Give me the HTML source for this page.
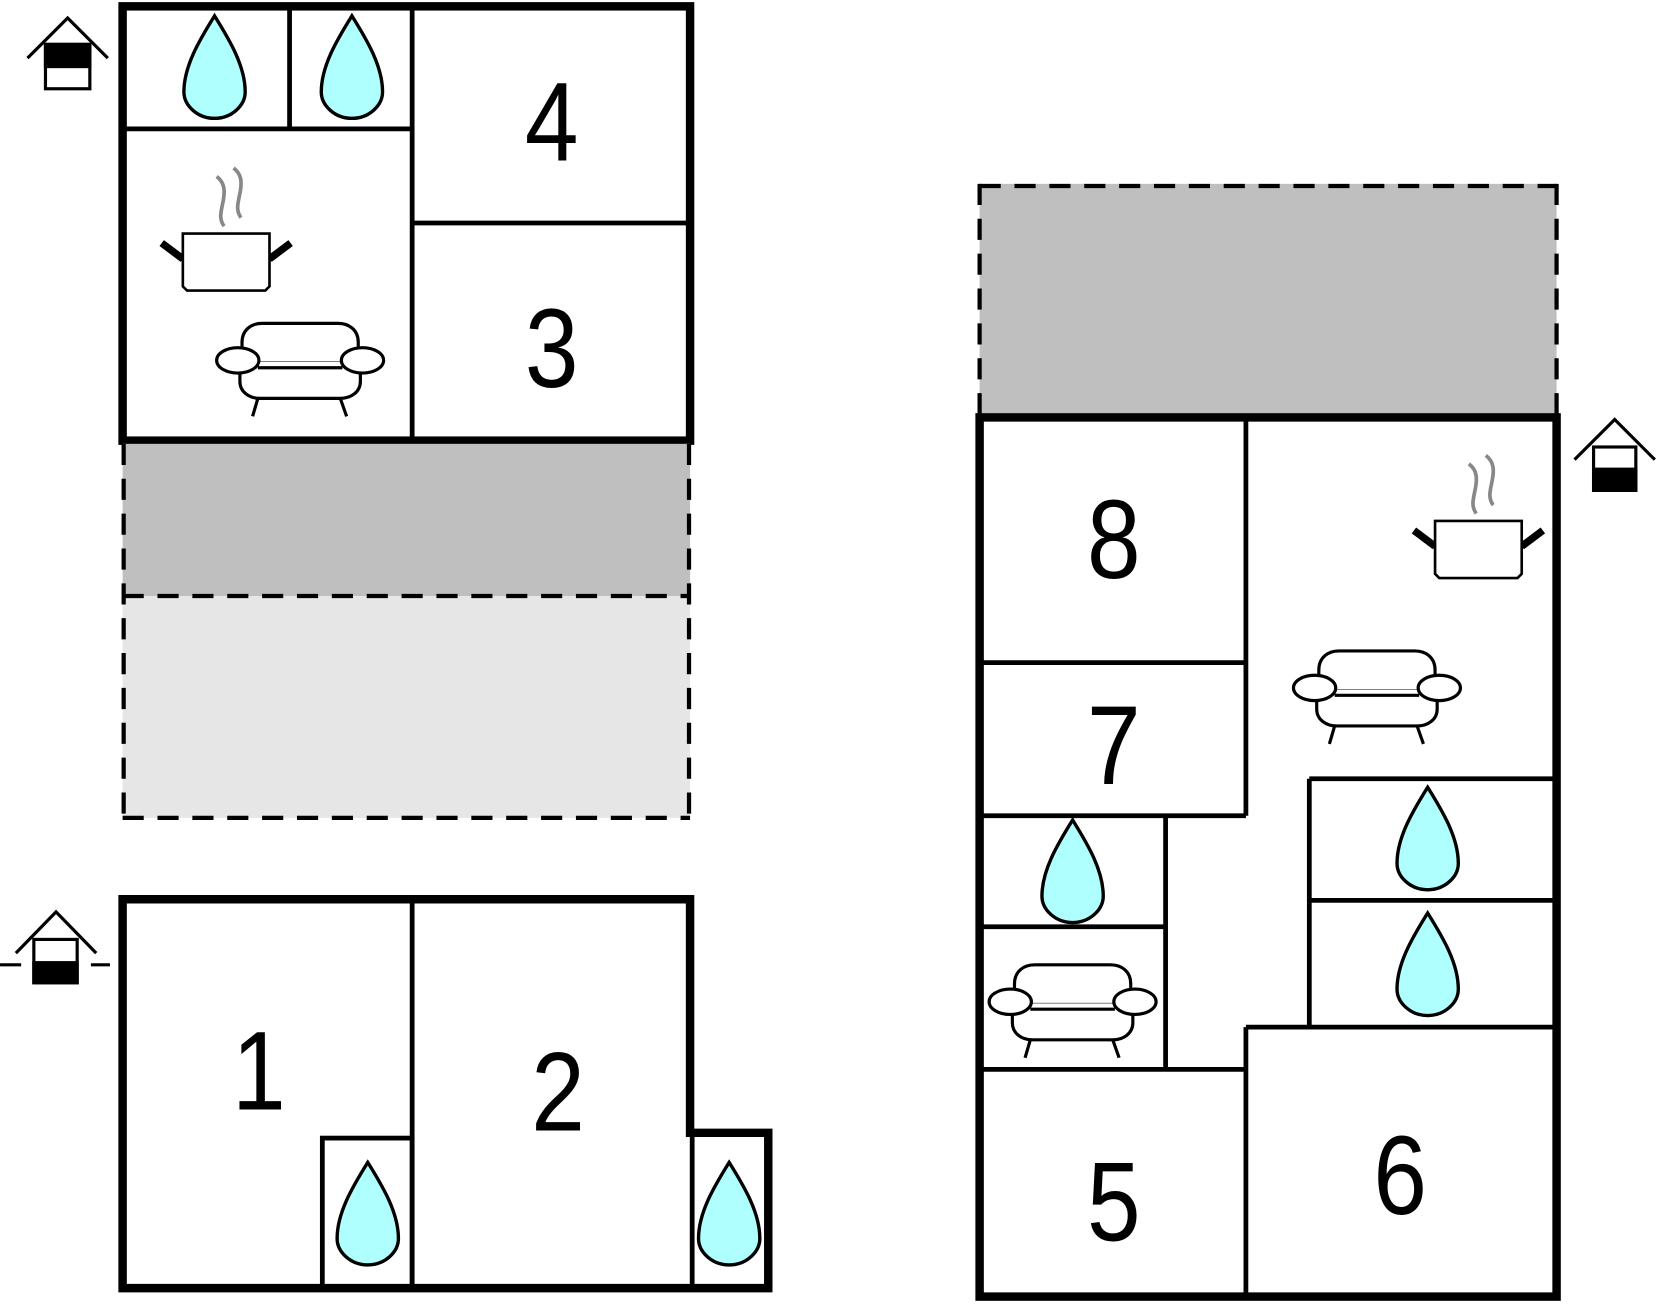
<!DOCTYPE html>
<html><head><meta charset="utf-8"><style>html,body{margin:0;padding:0;background:#fff}svg{display:block}</style></head>
<body>
<svg width="1657" height="1304" viewBox="0 0 1568 1234" xmlns="http://www.w3.org/2000/svg">
<defs>
<path id="drop" d="M0,0 C-15,24 -29,48 -29,72 C-29,85 -16,97 0,97 C16,97 29,85 29,72 C29,48 15,24 0,0Z" fill="#b0ffff" stroke="#000" stroke-width="3.2"/>
<g id="sofa" fill="#fff" stroke="#000" stroke-width="3">
<path d="M-57,35 L-57,55 C-57,65 -48,71 -38,71 L38,71 C48,71 57,65 57,55 L57,35Z"/>
<path d="M-40,71 L-45,88 M38,71 L44,88" fill="none"/>
<path d="M-55,36 L-55,18 C-55,6 -46,0 -36,0 L36,0 C46,0 55,6 55,18 L55,36" stroke="none"/>
<path d="M-55,35 L-55,18 C-55,6 -46,0 -36,0 L36,0 C46,0 55,6 55,18 L55,35" fill="none"/>
<path d="M-40,42 L40,42" fill="none"/>
<ellipse cx="-59" cy="35" rx="20" ry="12"/>
<ellipse cx="59" cy="35" rx="20" ry="12"/>
</g>
<g id="pot">
<path d="M18,78 L-2,63 M100,78 L120,63" stroke="#000" stroke-width="7" fill="none"/>
<path d="M18,78 L18,104 L22,108 L96,108 L100,104 L100,54 L18,54Z" fill="#fff" stroke="#000" stroke-width="2.5"/>
<path d="M50,0 C58,6 58,14 56,24 C54,34 52,40 57,47" fill="none" stroke="#888" stroke-width="3.5"/>
<path d="M66,-8 C74,-2 74,6 72,16 C70,26 68,32 73,39" fill="none" stroke="#888" stroke-width="3.5"/>
</g>
</defs>
<style>text{font-family:"Liberation Sans",sans-serif;font-size:106px;text-anchor:middle}</style>

<g stroke="#000" fill="none">
<line x1="390" y1="6" x2="390" y2="417" stroke-width="4.5"/>
<line x1="116" y1="122" x2="390" y2="122" stroke-width="4.5"/>
<line x1="274" y1="6" x2="274" y2="122" stroke-width="4.5"/>
<line x1="390" y1="211" x2="653" y2="211" stroke-width="4.5"/>
<rect x="116" y="6" width="537" height="411" stroke-width="8"/>
</g>
<use href="#drop" x="203" y="15"/>
<use href="#drop" x="333" y="15"/>
<text transform="translate(522,152) scale(0.86,1)">4</text>
<text transform="translate(522,366) scale(0.86,1)">3</text>
<use href="#pot" x="155" y="167"/>
<use href="#sofa" x="284" y="306"/>
<g stroke="#000" stroke-width="3" fill="none">
<polyline points="26,55 64,17 102,55"/>
<rect x="43" y="42" width="42" height="42" fill="#fff"/>
<rect x="43" y="42" width="42" height="21" fill="#000"/>
</g>

<rect x="116" y="420" width="537" height="144" fill="#bfbfbf"/>
<rect x="116" y="564" width="537" height="210" fill="#e6e6e6"/>
<g stroke="#000" stroke-width="4" stroke-dasharray="20 13" fill="none">
<line x1="117" y1="420" x2="117" y2="776"/>
<line x1="652" y1="420" x2="652" y2="776"/>
<line x1="116" y1="564" x2="653" y2="564"/>
<line x1="116" y1="774" x2="653" y2="774"/>
</g>

<g stroke="#000" fill="none">
<line x1="390" y1="851" x2="390" y2="1219" stroke-width="4.5"/>
<rect x="305" y="1077" width="85" height="142" stroke-width="4.5"/>
<line x1="655" y1="1072" x2="655" y2="1219" stroke-width="4.5"/>
<polygon points="116,851 653,851 653,1072 727,1072 727,1219 116,1219" stroke-width="8"/>
</g>
<use href="#drop" x="348" y="1100"/>
<use href="#drop" x="690" y="1100"/>
<text transform="translate(245,1050) scale(0.86,1)">1</text>
<text transform="translate(528,1070) scale(0.86,1)">2</text>
<g stroke="#000" stroke-width="3" fill="none">
<polyline points="15,902 53,863 91,902"/>
<rect x="32" y="889" width="41" height="41" fill="#fff"/>
<rect x="32" y="911" width="41" height="19" fill="#000"/>
<line x1="0" y1="913" x2="20" y2="913"/>
<line x1="86" y1="913" x2="104" y2="913"/>
</g>

<rect x="927" y="174" width="546" height="219" fill="#bfbfbf"/>
<g stroke="#000" stroke-width="4" stroke-dasharray="20 13" fill="none">
<line x1="927" y1="176" x2="1473" y2="176"/>
<line x1="927" y1="174" x2="927" y2="393"/>
<line x1="1473" y1="174" x2="1473" y2="393"/>
</g>
<g stroke="#000" stroke-width="4.5" fill="none">
<line x1="1179" y1="395" x2="1179" y2="772"/>
<line x1="927" y1="627" x2="1179" y2="627"/>
<line x1="927" y1="772" x2="1179" y2="772"/>
<line x1="1103" y1="772" x2="1103" y2="1012"/>
<line x1="927" y1="877" x2="1103" y2="877"/>
<line x1="927" y1="1012" x2="1179" y2="1012"/>
<line x1="1179" y1="972" x2="1179" y2="1227"/>
<line x1="1179" y1="972" x2="1473" y2="972"/>
<line x1="1239" y1="737" x2="1239" y2="972"/>
<line x1="1239" y1="737" x2="1473" y2="737"/>
<line x1="1239" y1="852" x2="1473" y2="852"/>
<rect x="927" y="395" width="546" height="832" stroke-width="8"/>
</g>
<text transform="translate(1054,547) scale(0.86,1)">8</text>
<text transform="translate(1054,742) scale(0.86,1)">7</text>
<text transform="translate(1054,1174) scale(0.86,1)">5</text>
<text transform="translate(1325,1149) scale(0.86,1)">6</text>
<use href="#drop" x="1015" y="776"/>
<use href="#drop" x="1351" y="745"/>
<use href="#drop" x="1351" y="864"/>
<use href="#pot" x="1340" y="439"/>
<use href="#sofa" x="1303" y="616"/>
<use href="#sofa" x="1015" y="913"/>
<g stroke="#000" stroke-width="3" fill="none">
<polyline points="1490,435 1528,397 1566,435"/>
<rect x="1508" y="423" width="40" height="41" fill="#fff"/>
<rect x="1508" y="444" width="40" height="20" fill="#000"/>
</g>
</svg>
</body></html>
